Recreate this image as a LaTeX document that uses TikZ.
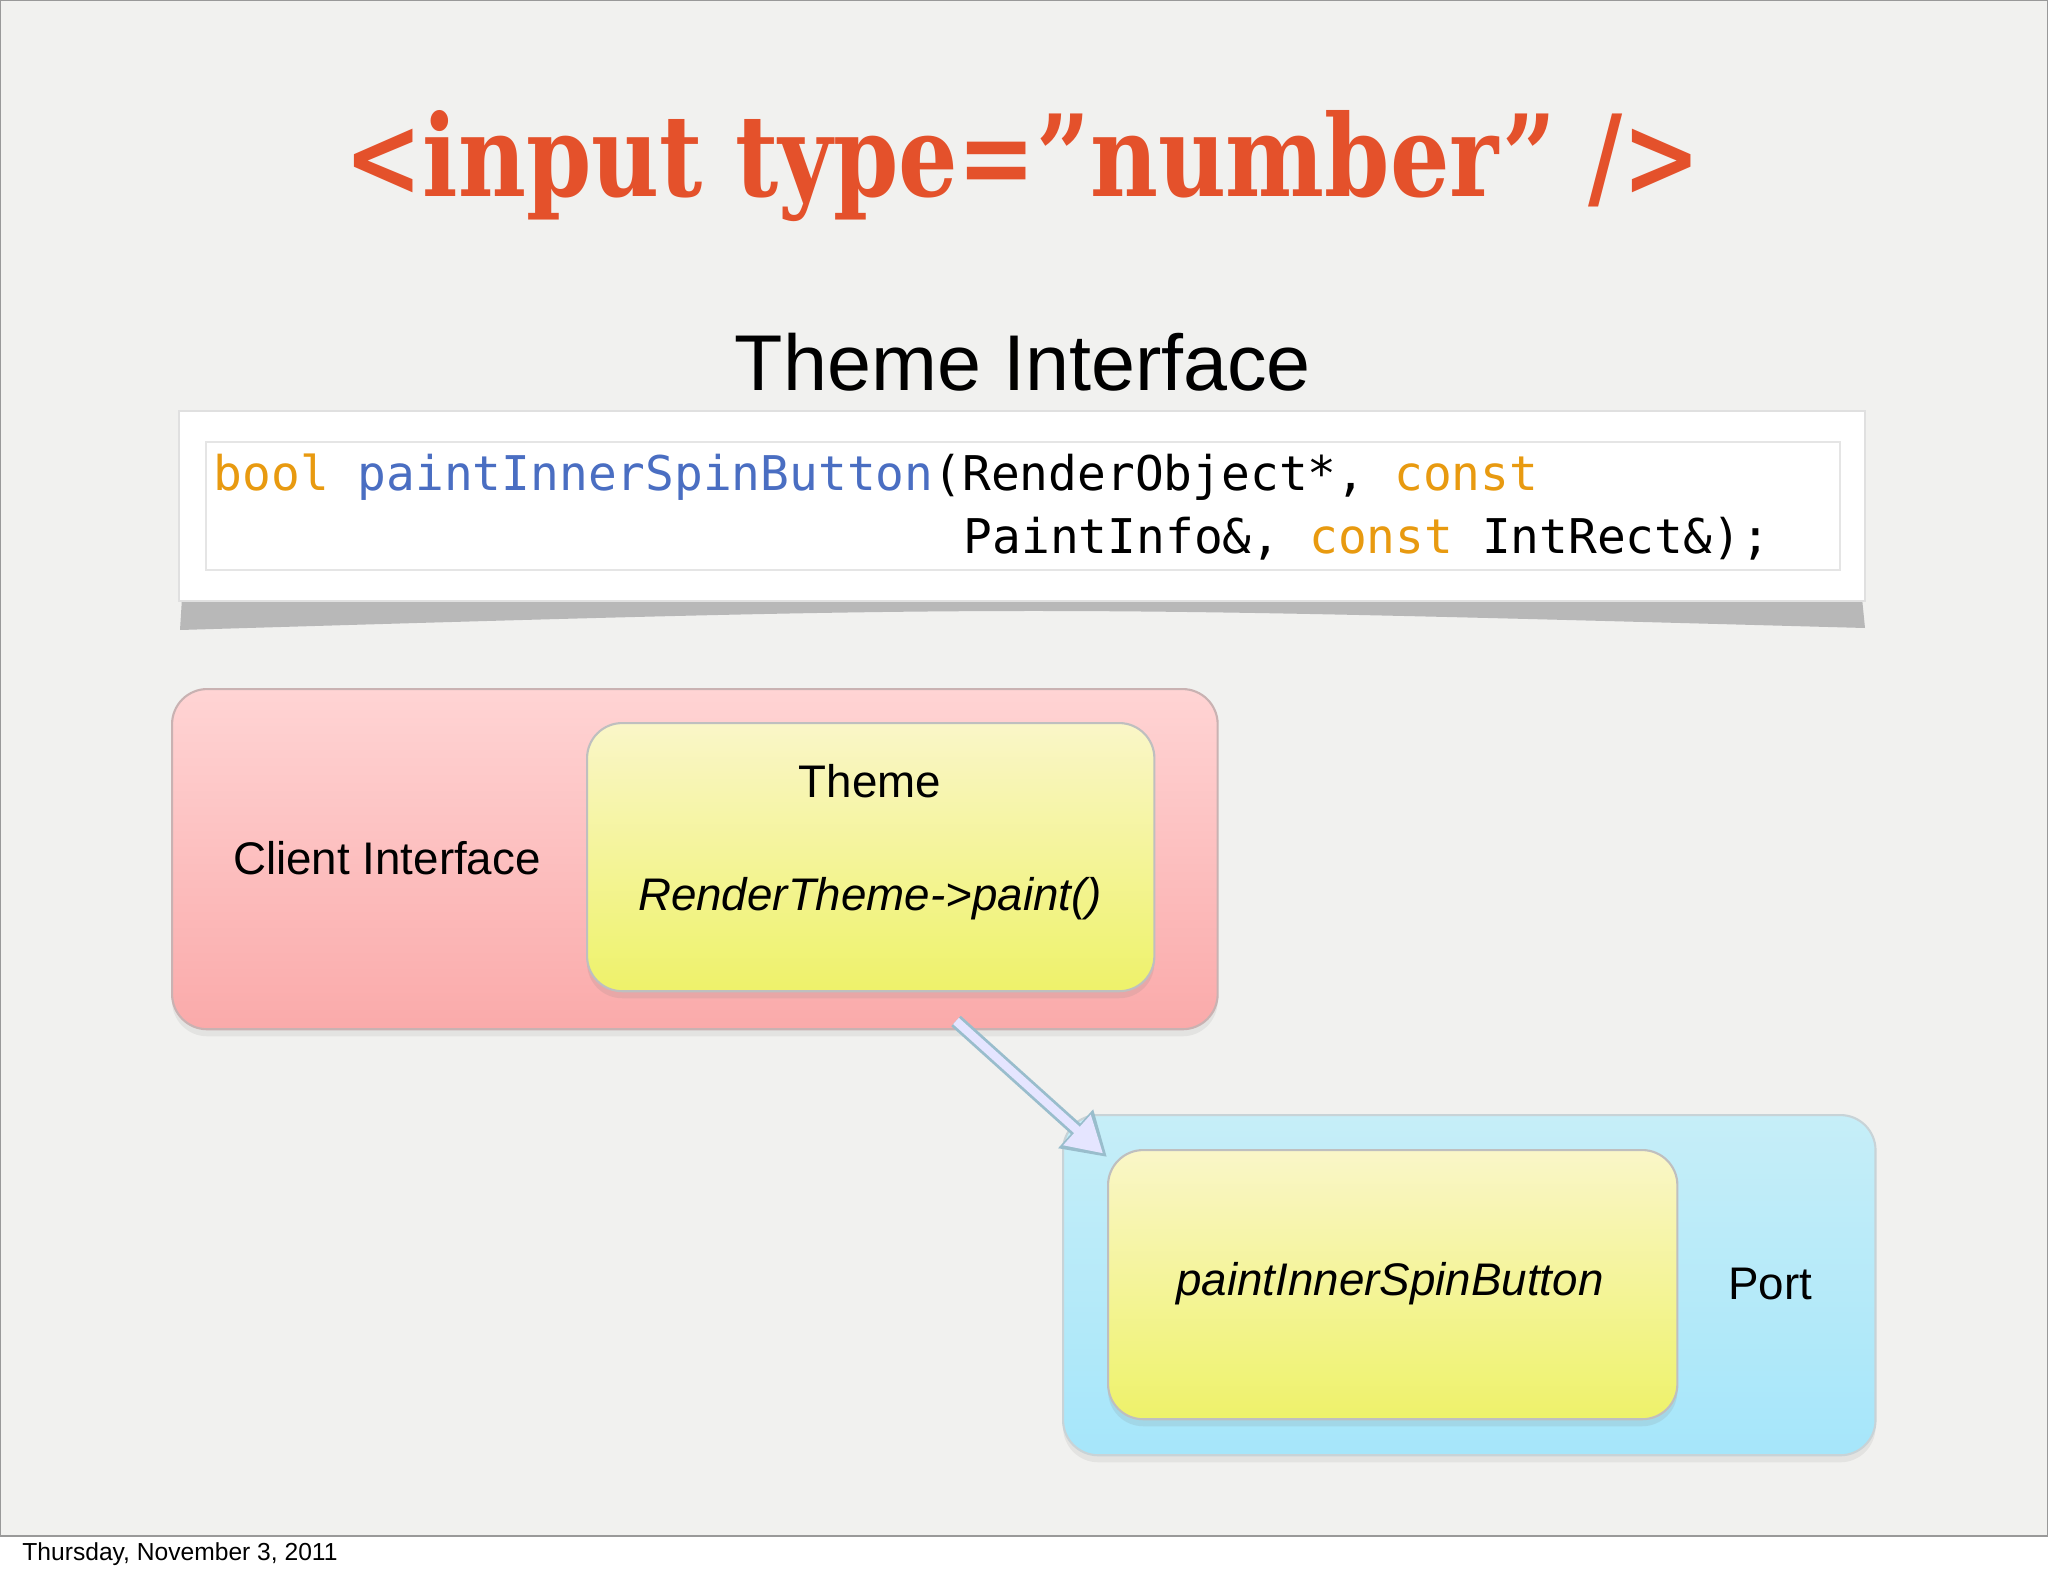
\documentclass[tikz,border=0pt]{standalone}
\usepackage{fontspec}
\setmainfont{Liberation Sans}
\newfontfamily\slab{DejaVu Serif}
\newfontfamily\mono{DejaVu Sans Mono}
\usetikzlibrary{arrows.meta,shadows}
\definecolor{bg}{HTML}{F1F1EF}
\definecolor{titlered}{HTML}{E4512B}
\definecolor{kworange}{HTML}{E89A10}
\definecolor{fnblue}{HTML}{4A6EC2}
\definecolor{ytop}{HTML}{FAF6C8}
\definecolor{ybot}{HTML}{EEF26A}
\definecolor{ctop}{HTML}{C6EEF8}
\definecolor{cbot}{HTML}{A6E6FA}
\definecolor{rtop}{HTML}{FFD4D4}
\definecolor{rbot}{HTML}{FAAAAA}
\tikzset{
  lbl/.style={font=\fontsize{13pt}{16pt}\selectfont, text=black},
  ilbl/.style={font=\fontsize{13pt}{16pt}\selectfont\itshape, text=black},
  outerbox/.style={rounded corners=10pt, line width=0.6pt},
  yelbox/.style={rounded corners=10pt, draw=black!25, line width=0.6pt, top color=ytop, bottom color=ybot,
    drop shadow={shadow xshift=0pt, shadow yshift=-2pt, opacity=0.15}},
}
\begin{document}
\begin{tikzpicture}[x=0.01cm,y=-0.01cm]
\useasboundingbox (0,0) rectangle (2048,1576);
\fill[bg] (0,0) rectangle (2048,1536);
\fill[white] (0,1536) rectangle (2048,1576);
\draw[black!70, line width=0.5pt] (0,1536) -- (2048,1536);
\draw[black!40, line width=0.5pt] (0,0) rectangle (2048,1536);
\node[anchor=west, font=\fontsize{7pt}{8pt}\selectfont] (date) at (10,1554) {Thursday, November 3, 2011};
% title
\node[text=titlered] (title) at (1023,166) {\resizebox{13.56cm}{0.86cm}{\slab\bfseries <input type=”number” />}};
\node[font=\fontsize{22.5pt}{26pt}\selectfont] (themeif) at (1023,362) {Theme Interface};
% code box shadow
\fill[black!28] (182,598) -- (1862,598) -- (1865,628) .. controls (1020,605) .. (180,630) -- cycle;
\node[draw=black!12, fill=white, minimum width=16.85cm, minimum height=1.9cm, inner sep=0pt] (codebox) at (1022,506) {};
\draw[black!10] (206,442) -- (1840,442) -- (1840,570) -- (206,570) -- cycle;
\node[anchor=west, inner sep=0pt, font=\mono\fontsize{13.6pt}{16pt}\selectfont] (code1) at (213,477) {\textcolor{kworange}{bool} \textcolor{fnblue}{paintInnerSpinButton}(RenderObject*, \textcolor{kworange}{const}};
\node[anchor=west, inner sep=0pt, font=\mono\fontsize{13.6pt}{16pt}\selectfont] (code2) at (963,539) {PaintInfo\&, \textcolor{kworange}{const} IntRect\&);};
% client box
\node[outerbox, draw=red!30!black!30, top color=rtop, bottom color=rbot, minimum width=10.45cm, minimum height=3.4cm, anchor=north west,
  drop shadow={shadow xshift=0pt, shadow yshift=-2pt, opacity=0.12}] (client) at (171,688) {};
\node[yelbox, minimum width=5.67cm, minimum height=2.68cm, anchor=north west] (theme) at (586,722) {};
\node[lbl] (clientlbl) at (387,858) {Client Interface};
\node[lbl] (themelbl) at (870,781) {Theme};
\node[ilbl] (paintlbl) at (870,899) {RenderTheme->paint()};
% port box
\node[outerbox, draw=cyan!30!black!25, top color=ctop, bottom color=cbot, minimum width=8.12cm, minimum height=3.4cm, anchor=north west,
  drop shadow={shadow xshift=0pt, shadow yshift=-2pt, opacity=0.12}] (port) at (1062,1114) {};
\node[yelbox, minimum width=5.69cm, minimum height=2.69cm, anchor=north west] (spin) at (1107,1149) {};
\node[ilbl] (spinlbl) at (1390,1284) {paintInnerSpinButton};
\node[lbl] (portlbl) at (1770,1284) {Port};
% arrow
\coordinate (a1) at (956,1021);
\coordinate (a2) at (1107,1157);
\draw[-{Triangle[length=12pt,width=14pt,fill=blue!12!white]}, draw=blue!30!cyan!50!black!40, line width=4pt] (a1) -- (a2);
\draw[-{Triangle[length=10pt,width=11pt]}, draw=blue!10!white, line width=2.4pt, shorten >=1.5pt] (a1) -- (a2);
\end{tikzpicture}
\end{document}
